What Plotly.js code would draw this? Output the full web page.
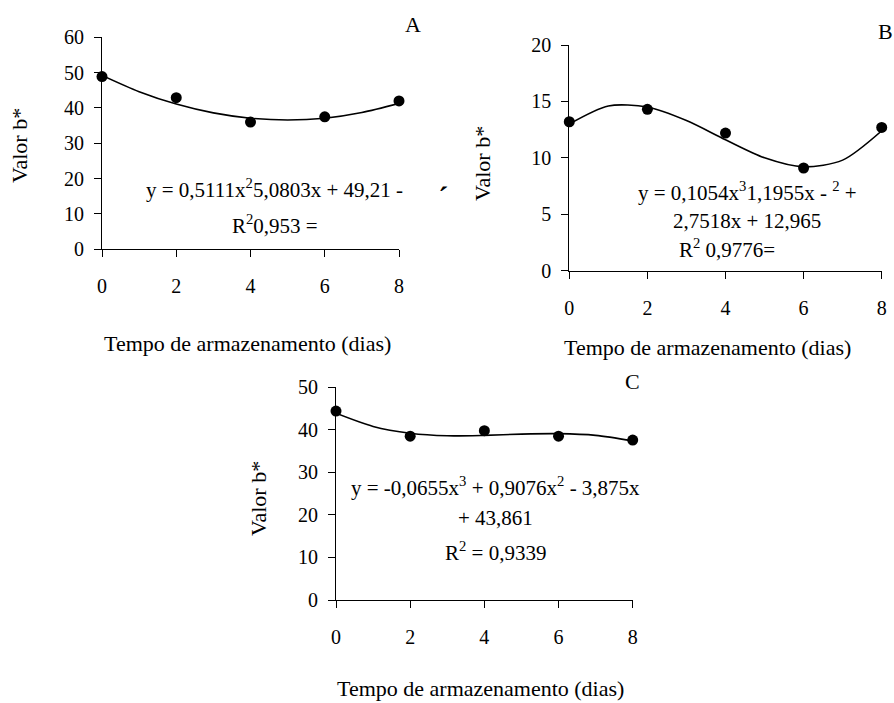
<!DOCTYPE html>
<html>
<head>
<meta charset="utf-8">
<script src="https://cdn.plot.ly/plotly-3.0.1.min.js"></script>
<style>html,body{margin:0;padding:0;background:#fff;}#chart{width:894px;height:703px;}</style>
</head>
<body>
<div id="chart"></div>
<script>
// ---- data ----
const days = [0, 2, 4, 6, 8];
const fitDays = [0, 1, 2, 3, 4, 5, 6, 7, 8];
const pointsA = [48.9, 42.9, 36.0, 37.5, 42.0];
const curveA = [49.2, 44.6, 41.1, 38.6, 37.1, 36.6, 37.1, 38.7, 41.3];
const pointsB = [13.2, 14.3, 12.2, 9.1, 12.7];
const curveB = [13.0, 14.6, 14.5, 13.3, 11.6, 10.0, 9.2, 9.8, 12.4];
const pointsC = [44.4, 38.5, 39.8, 38.5, 37.6];
const curveC = [43.9, 40.8, 39.2, 38.6, 38.7, 39.0, 39.1, 38.7, 37.4];
const xTicks = [0, 2, 4, 6, 8];
const yTicksA = [0, 10, 20, 30, 40, 50, 60];
const yTicksB = [0, 5, 10, 15, 20];
const yTicksC = [0, 10, 20, 30, 40, 50];
const xTitle = "Tempo de armazenamento (dias)";
const yTitle = "Valor b*";
const eqA = ["y = 0,5111x<sup>2</sup>5,0803x + 49,21 -", "R<sup>2</sup>0,953 ="];
const eqB = ["y = 0,1054x<sup>3</sup>1,1955x - <sup>2</sup> +", "2,7518x + 12,965", "R<sup>2</sup> 0,9776="];
const eqC = ["y = -0,0655x<sup>3</sup> + 0,9076x<sup>2</sup> - 3,875x", "+ 43,861", "R<sup>2</sup> = 0,9339"];

// ---- layout helpers ----
const W = 894, H = 703;
const FAM = '"Liberation Serif", "Times New Roman", serif';
const TICKFONT = {family: FAM, size: 20, color: '#000'};
const TITLEFONT = {family: FAM, size: 22, color: '#000'};
const EQFONT = {family: FAM, size: 21, color: '#000'};
const fx = p => p / W;
const fy = p => 1 - p / H;

function pts(x, y, xa, ya) {
  return {x: x, y: y, xaxis: xa, yaxis: ya, type: 'scatter', mode: 'markers',
    marker: {color: '#000', size: 11}, cliponaxis: false, showlegend: false, hoverinfo: 'skip'};
}
function fit(x, y, xa, ya) {
  return {x: x, y: y, xaxis: xa, yaxis: ya, type: 'scatter', mode: 'lines',
    line: {color: '#000', width: 1.6, shape: 'spline', smoothing: 0.8}, cliponaxis: false, showlegend: false, hoverinfo: 'skip'};
}
const data = [
  fit(fitDays, curveA, 'x', 'y'), pts(days, pointsA, 'x', 'y'),
  fit(fitDays, curveB, 'x2', 'y2'), pts(days, pointsB, 'x2', 'y2'),
  fit(fitDays, curveC, 'x3', 'y3'), pts(days, pointsC, 'x3', 'y3')
];

function xaxis(d0, d1, anchor) {
  return {domain: [fx(d0), fx(d1)], anchor: anchor, range: [0, 8], tickvals: xTicks,
    showline: true, linecolor: '#000', linewidth: 1, ticks: 'outside', ticklen: 7, tickcolor: '#000',
    showgrid: false, zeroline: false, tickfont: TICKFONT, ticklabelstandoff: 12, fixedrange: true};
}
function yaxis(b, t, anchor, range, vals) {
  return {domain: [fy(b), fy(t)], anchor: anchor, range: range, tickvals: vals,
    showline: true, linecolor: '#000', linewidth: 1, ticks: 'outside', ticklen: 7, tickcolor: '#000',
    showgrid: false, zeroline: false, tickfont: TICKFONT, ticklabelstandoff: 6, fixedrange: true};
}

function ann(text, px, py, font, extra) {
  return Object.assign({text: text, xref: 'paper', yref: 'paper', x: fx(px), y: fy(py),
    xanchor: 'center', yanchor: 'middle', showarrow: false, font: font}, extra || {});
}

const annotations = [
  ann('A', 413, 24, TITLEFONT), ann('B', 885, 32, TITLEFONT), ann('C', 632, 381, TITLEFONT),
  ann(xTitle, 247, 343, TITLEFONT), ann(xTitle, 707, 347, TITLEFONT), ann(xTitle, 480, 688, TITLEFONT),
  ann(yTitle, 20, 146, TITLEFONT, {textangle: -90}), ann(yTitle, 483, 164, TITLEFONT, {textangle: -90}), ann(yTitle, 258, 499, TITLEFONT, {textangle: -90}),
  ann(eqA[0], 274, 188, EQFONT), ann(eqA[1], 275, 224, EQFONT),
  ann(eqB[0], 747, 191, EQFONT), ann(eqB[1], 747, 221, EQFONT), ann(eqB[2], 727, 248, EQFONT),
  ann(eqC[0], 495, 486, EQFONT), ann(eqC[1], 495, 518, EQFONT), ann(eqC[2], 495, 551, EQFONT),
  ann('ˏ', 444, 174, {family: FAM, size: 30, color: '#000', weight: 'bold'})
];

const layout = {
  width: W, height: H, margin: {l: 0, r: 0, t: 0, b: 0},
  paper_bgcolor: '#fff', plot_bgcolor: '#fff', showlegend: false,
  font: TICKFONT,
  xaxis: xaxis(102, 399, 'y'), yaxis: yaxis(249.3, 37.3, 'x', [0, 60], yTicksA),
  xaxis2: xaxis(569.3, 881.7, 'y2'), yaxis2: yaxis(270.7, 45, 'x2', [0, 20], yTicksB),
  xaxis3: xaxis(336, 632.7, 'y3'), yaxis3: yaxis(600, 387.3, 'x3', [0, 50], yTicksC),
  annotations: annotations
};

Plotly.newPlot('chart', data, layout, {staticPlot: true, displayModeBar: false});
</script>
</body>
</html>
